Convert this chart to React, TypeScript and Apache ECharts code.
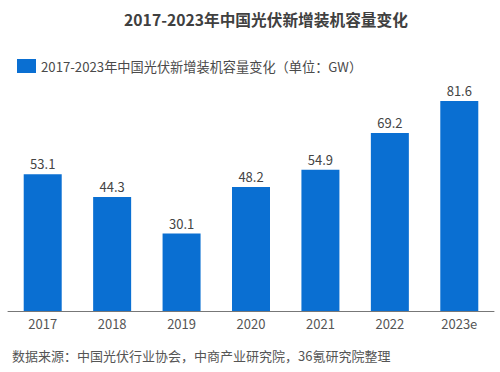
import React, { useEffect, useRef } from "react";
import * as echarts from "echarts";

const categories = ["2017", "2018", "2019", "2020", "2021", "2022", "2023e"];
const values = [53.1, 44.3, 30.1, 48.2, 54.9, 69.2, 81.6];
const seriesName = "2017-2023年中国光伏新增装机容量变化（单位：GW）";
const titleText = "2017-2023年中国光伏新增装机容量变化";
const sourceText = "数据来源：中国光伏行业协会，中商产业研究院，36氪研究院整理";

const FONT = "'Noto Sans CJK SC', 'Noto Sans', sans-serif";

export default function App() {
  const ref = useRef<HTMLDivElement>(null);
  useEffect(() => {
    if (!ref.current) return;
    const chart = echarts.init(ref.current, null, { renderer: "svg" });
    chart.setOption({
      animation: false,
      backgroundColor: "#ffffff",
      title: {
        text: titleText,
        left: 261,
        textAlign: "center",
        top: 7,
        textStyle: { fontFamily: FONT, fontSize: 15.7, fontWeight: "bold", color: "#404040" },
      },
      legend: {
        left: 12,
        top: 54,
        itemWidth: 19,
        itemHeight: 14,
        itemGap: 6,
        icon: "rect",
        textStyle: { fontFamily: FONT, fontSize: 13.2, color: "#4a4a4a" },
        data: [seriesName],
      },
      graphic: [
        {
          type: "text",
          left: 12,
          top: 349,
          style: { text: sourceText, fontFamily: FONT, fontSize: 13, fill: "#555" },
        },
      ],
      grid: { left: 8, right: 6, top: 53.6, bottom: 61, containLabel: false },
      xAxis: {
        type: "category",
        data: categories,
        axisLine: { lineStyle: { color: "#777", width: 1 } },
        axisTick: { show: false },
        axisLabel: { fontFamily: FONT, fontSize: 13, color: "#555", margin: 6 },
      },
      yAxis: {
        type: "value",
        min: 0,
        max: 100,
        show: false,
        splitLine: { show: false },
      },
      series: [
        {
          name: seriesName,
          type: "bar",
          data: values,
          barWidth: 38,
          itemStyle: { color: "#0a6fd2" },
          label: {
            show: true,
            position: "top",
            distance: 4,
            fontFamily: FONT,
            fontSize: 13,
            color: "#444",
          },
        },
      ],
    });
    return () => chart.dispose();
  }, []);
  return <div ref={ref} style={{ width: 500, height: 372, position: "absolute", left: 0, top: 0 }} />;
}
